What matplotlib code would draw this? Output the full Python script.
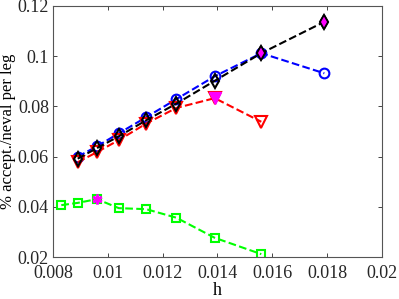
import matplotlib
matplotlib.use("Agg")
import matplotlib.pyplot as plt
import numpy as np

plt.rcParams['font.family'] = ['Liberation Serif', 'DejaVu Serif']

h_main = [0.0089, 0.0096, 0.0104, 0.0114, 0.0125, 0.0139, 0.0156, 0.0179]
blue_y = [0.0600, 0.0641, 0.0693, 0.0757, 0.0829, 0.0920, 0.1012, 0.0932]
h_red = [0.0089, 0.0096, 0.0104, 0.0114, 0.0125, 0.0139, 0.0156]
red_y = [0.0578, 0.0618, 0.0666, 0.0732, 0.0794, 0.0833, 0.0739]
black_y = [0.0592, 0.0634, 0.0681, 0.0745, 0.0811, 0.0902, 0.1012, 0.1137]
h_green = [0.0083, 0.0089, 0.0096, 0.0104, 0.0114, 0.0125, 0.0139, 0.0156]
green_y = [0.0407, 0.0416, 0.0431, 0.0395, 0.0391, 0.0357, 0.0277, 0.0212]

red_best = [5]
black_best = [6, 7]
green_best = [2]

fig = plt.figure(figsize=(3.99, 2.99), dpi=100)
ax = fig.add_axes([0.133, 0.140, 0.824, 0.840])

ms = 7
lw = 1.5
ax.plot(h_main, blue_y, linestyle='--', color='b', lw=lw, marker='o', ms=ms,
        mfc='none', mew=1.5)
ax.plot(h_red, red_y, linestyle='--', color='r', lw=lw, marker='v', ms=ms + 1,
        mfc='none', mew=1.5)
ax.plot(h_main, black_y, linestyle='--', color='k', lw=lw, marker='d', ms=ms,
        mfc='none', mew=1.5)
ax.plot(h_green, green_y, linestyle='--', color='#00ff00', lw=lw, marker='s', ms=ms - 1,
        mfc='none', mew=1.5)

ax.plot([h_red[i] for i in red_best], [red_y[i] for i in red_best], linestyle='none',
        marker='v', ms=ms + 1, mfc='magenta', mec='magenta')
ax.plot([h_main[i] for i in black_best], [black_y[i] for i in black_best], linestyle='none',
        marker='d', ms=ms, mfc='magenta', mec='k', mew=1.2)
ax.plot([h_green[i] for i in green_best], [green_y[i] for i in green_best], linestyle='none',
        marker=(6, 2, 0), ms=ms, mec='magenta', mew=2)

ax.set_xlim(0.008, 0.02)
ax.set_ylim(0.02, 0.12)
ax.set_xticks(np.arange(0.008, 0.0201, 0.002))
ax.set_xticklabels(['0.008', '0.01', '0.012', '0.014', '0.016', '0.018', '0.02'])
ax.set_yticks(np.arange(0.02, 0.1201, 0.02))
ax.set_yticklabels(['0.02', '0.04', '0.06', '0.08', '0.1', '0.12'])
ax.tick_params(direction='in', top=True, right=True, labelsize=13, length=3,
               colors='#262626', width=0.6)
ax.tick_params(axis='x', pad=6)
ax.tick_params(axis='y', pad=3)
for s in ax.spines.values():
    s.set_color('#555555')
    s.set_linewidth(0.8)
ax.set_xlabel('h', fontsize=13, labelpad=0)
ax.set_ylabel('% accept./neval per leg', fontsize=12, labelpad=1)

fig.savefig('out.png', dpi=100)
